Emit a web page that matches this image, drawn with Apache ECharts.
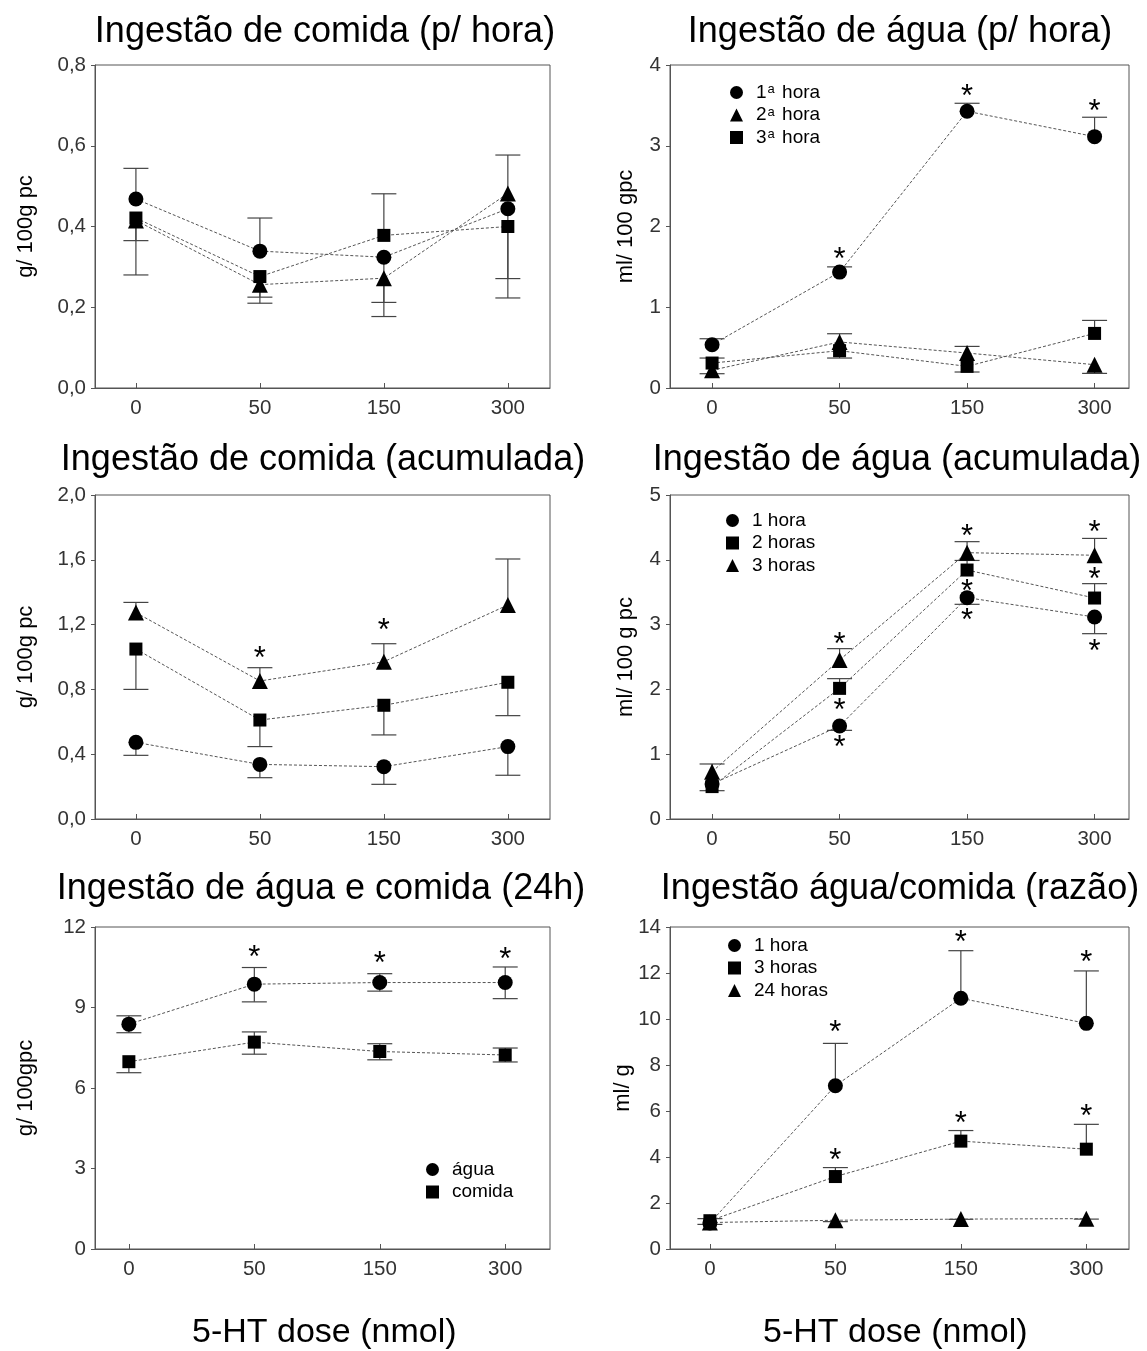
<!DOCTYPE html>
<html>
<head>
<meta charset="utf-8">
<script src="https://cdn.jsdelivr.net/npm/echarts@6/dist/echarts.min.js"></script>
<style>
  html, body { margin: 0; padding: 0; background: #fff; }
  #main { width: 1147px; height: 1351px; }
</style>
</head>
<body>
<div id="main"></div>
<script>
// doses on the x axis (plotted at index positions 0..3)
const doseLabels = ['0', '50', '150', '300']
const doseIdx = [0, 1, 2, 3]

// Ingestão de comida (p/ hora)
const comidaHora1 = [0.468, 0.339, 0.324, 0.444]
const comidaHora2 = [0.415, 0.256, 0.272, 0.482]
const comidaHora3 = [0.421, 0.276, 0.378, 0.400]
const comidaHora1Err = [0.544, 0.421, 0.212, 0.271]
const comidaHora2Err = [0.280, 0.210, 0.177, 0.577]
const comidaHora3Err = [0.365, 0.225, 0.481, 0.223]

// Ingestão de água (p/ hora)
const aguaHora1 = [0.536, 1.435, 3.427, 3.113]
const aguaHora2 = [0.220, 0.570, 0.433, 0.289]
const aguaHora3 = [0.309, 0.462, 0.268, 0.676]
const aguaHora1Err = [0.610, 1.500, 3.526, 3.353]
const aguaHora2Err = [0.177, 0.672, 0.515, 0.181]
const aguaHora3Err = [0.371, 0.371, 0.198, 0.837]
const aguaHoraStars = [[1, 1.67], [2, 3.69], [3, 3.505]]

// Ingestão de comida (acumulada)
const comidaAc1 = [0.473, 0.337, 0.323, 0.447]
const comidaAc2 = [1.049, 0.611, 0.702, 0.844]
const comidaAc3 = [1.274, 0.852, 0.971, 1.321]
const comidaAc1Err = [0.393, 0.255, 0.214, 0.270]
const comidaAc2Err = [0.800, 0.447, 0.519, 0.638]
const comidaAc3Err = [1.337, 0.934, 1.082, 1.605]
const comidaAcStars = [[1, 1.027], [2, 1.198]]

// Ingestão de água (acumulada)
const aguaAc1 = [0.54, 1.435, 3.416, 3.117]
const aguaAc2 = [0.50, 2.016, 3.842, 3.410]
const aguaAc3 = [0.73, 2.454, 4.110, 4.070]
const aguaAc1Err = [null, 1.368, 3.313, 2.860]
const aguaAc2Err = [0.437, 2.166, 3.990, 3.632]
const aguaAc3Err = [0.849, 2.629, 4.280, 4.330]
const aguaAcStars = [[1, 2.79], [1, 1.775], [1, 1.19], [2, 4.46], [2, 3.6], [2, 3.15], [3, 4.51], [3, 3.79], [3, 2.685]]

// Ingestão de água e comida (24h)
const agua24 = [8.38, 9.87, 9.93, 9.93]
const comida24 = [6.98, 7.71, 7.36, 7.23]
const agua24Hi = [8.69, 10.49, 10.26, 10.51]
const agua24Lo = [8.06, 9.21, 9.61, 9.33]
const comida24Hi = [null, 8.09, 7.65, 7.49]
const comida24Lo = [6.57, 7.26, 7.05, 6.97]
const dia24Stars = [[1, 11.09], [2, 10.88], [3, 11.03]]

// Ingestão água/comida (razão)
const razao1h = [1.13, 7.10, 10.90, 9.81]
const razao3h = [1.23, 3.15, 4.69, 4.34]
const razao24h = [1.15, 1.25, 1.30, 1.32]
const razao1hErr = [1.07, 8.94, 12.97, 12.09]
const razao3hErr = [1.32, 3.54, 5.15, 5.42]
const razao24hErr = [null, 1.19, 1.29, 1.30]
const razaoStars = [[1, 9.66], [2, 13.57], [3, 12.70], [1, 4.09], [2, 5.73], [3, 6.02]]

const FONT = 'Liberation Sans, Arial, sans-serif'
const chart = echarts.init(document.getElementById('main'))

const grids = [
  { left: 95, top: 65, width: 455, height: 323 },
  { left: 670, top: 65, width: 459, height: 323 },
  { left: 95, top: 495, width: 455, height: 324 },
  { left: 670, top: 495, width: 459, height: 324 },
  { left: 95, top: 927, width: 455, height: 322 },
  { left: 670, top: 927, width: 459, height: 322 }
]
const xRange = [[-0.33, 3.34], [-0.33, 3.27], [-0.33, 3.34], [-0.33, 3.27], [-0.27, 3.357], [-0.318, 3.34]]
const yMax = [0.8, 4, 2.0, 5, 12, 14]
const yStep = [0.2, 1, 0.4, 1, 3, 2]
const yComma = [true, false, true, false, false, false]
const yNames = ['g/ 100g pc', 'ml/ 100 gpc', 'g/ 100g pc', 'ml/ 100 g pc', 'g/ 100gpc', 'ml/ g']
const titles = [
  ['Ingestão de comida (p/ hora)', 325, 14],
  ['Ingestão de água (p/ hora)', 900, 14],
  ['Ingestão de comida (acumulada)', 323, 442],
  ['Ingestão de água (acumulada)', 897, 442],
  ['Ingestão de água e comida (24h)', 321, 871],
  ['Ingestão água/comida (razão)', 900, 871]
]

const symbols = { circle: ['circle', 15], rect: ['rect', 13], triangle: ['triangle', 16] }

function lineSeries (gi, name, vals, sym) {
  return {
    type: 'line',
    name: name,
    xAxisIndex: gi,
    yAxisIndex: gi,
    data: vals.map((v, i) => [doseIdx[i], v]),
    symbol: symbols[sym][0],
    symbolSize: symbols[sym][1],
    itemStyle: { color: '#000' },
    lineStyle: { color: '#555', width: 1, type: [3, 2] },
    z: 3,
    animation: false
  }
}

function errSeries (gi, vals, ends) {
  const data = []
  vals.forEach((v, i) => {
    if (ends[i] !== null) data.push([doseIdx[i], v, ends[i]])
  })
  return {
    type: 'custom',
    xAxisIndex: gi,
    yAxisIndex: gi,
    data: data,
    encode: { x: 0, y: [1, 2] },
    z: 2,
    silent: true,
    animation: false,
    renderItem: function (params, api) {
      const p0 = api.coord([api.value(0), api.value(1)])
      const p1 = api.coord([api.value(0), api.value(2)])
      const st = { stroke: '#444', lineWidth: 1.2 }
      return {
        type: 'group',
        children: [
          { type: 'line', shape: { x1: p0[0], y1: p0[1], x2: p1[0], y2: p1[1] }, style: st },
          { type: 'line', shape: { x1: p1[0] - 12.5, y1: p1[1], x2: p1[0] + 12.5, y2: p1[1] }, style: st }
        ]
      }
    }
  }
}

function starSeries (gi, pts) {
  return {
    type: 'custom',
    xAxisIndex: gi,
    yAxisIndex: gi,
    data: pts,
    z: 4,
    silent: true,
    animation: false,
    renderItem: function (params, api) {
      const p = api.coord([api.value(0), api.value(1)])
      return {
        type: 'text',
        x: p[0],
        y: p[1] + 7,
        style: { text: '*', fontSize: 31, fontFamily: FONT, fill: '#000', align: 'center', verticalAlign: 'middle' }
      }
    }
  }
}

function legendFor (left, top, items) {
  return {
    orient: 'vertical',
    left: left,
    top: top,
    padding: 0,
    itemGap: 3.5,
    itemWidth: 13,
    itemHeight: 13,
    selectedMode: false,
    data: items.map(it => ({ name: it[0], icon: it[1] })),
    formatter: function (name) { return name.replace(/(\d)ª/, '$1{s|a}') },
    textStyle: {
      fontFamily: FONT,
      fontSize: 19,
      lineHeight: 19,
      color: '#000',
      padding: [0, 0, 0, 8],
      rich: { s: { fontSize: 13, fontFamily: FONT, color: '#000', verticalAlign: 'top', padding: [0, 2, 0, 1] } }
    }
  }
}

const series = [
  lineSeries(0, 'c1', comidaHora1, 'circle'),
  lineSeries(0, 'c2', comidaHora2, 'triangle'),
  lineSeries(0, 'c3', comidaHora3, 'rect'),
  errSeries(0, comidaHora1, comidaHora1Err),
  errSeries(0, comidaHora2, comidaHora2Err),
  errSeries(0, comidaHora3, comidaHora3Err),

  lineSeries(1, '1ª hora', aguaHora1, 'circle'),
  lineSeries(1, '2ª hora', aguaHora2, 'triangle'),
  lineSeries(1, '3ª hora', aguaHora3, 'rect'),
  errSeries(1, aguaHora1, aguaHora1Err),
  errSeries(1, aguaHora2, aguaHora2Err),
  errSeries(1, aguaHora3, aguaHora3Err),
  starSeries(1, aguaHoraStars),

  lineSeries(2, 'ca1', comidaAc1, 'circle'),
  lineSeries(2, 'ca2', comidaAc2, 'rect'),
  lineSeries(2, 'ca3', comidaAc3, 'triangle'),
  errSeries(2, comidaAc1, comidaAc1Err),
  errSeries(2, comidaAc2, comidaAc2Err),
  errSeries(2, comidaAc3, comidaAc3Err),
  starSeries(2, comidaAcStars),

  lineSeries(3, '1 hora', aguaAc1, 'circle'),
  lineSeries(3, '2 horas', aguaAc2, 'rect'),
  lineSeries(3, '3 horas', aguaAc3, 'triangle'),
  errSeries(3, aguaAc1, aguaAc1Err),
  errSeries(3, aguaAc2, aguaAc2Err),
  errSeries(3, aguaAc3, aguaAc3Err),
  starSeries(3, aguaAcStars),

  lineSeries(4, 'água', agua24, 'circle'),
  lineSeries(4, 'comida', comida24, 'rect'),
  errSeries(4, agua24, agua24Hi),
  errSeries(4, agua24, agua24Lo),
  errSeries(4, comida24, comida24Hi),
  errSeries(4, comida24, comida24Lo),
  starSeries(4, dia24Stars),

  lineSeries(5, 'r1 hora', razao1h, 'circle'),
  lineSeries(5, 'r3 horas', razao3h, 'rect'),
  lineSeries(5, 'r24 horas', razao24h, 'triangle'),
  errSeries(5, razao1h, razao1hErr),
  errSeries(5, razao3h, razao3hErr),
  errSeries(5, razao24h, razao24hErr),
  starSeries(5, razaoStars)
]

const option = {
  backgroundColor: '#fff',
  animation: false,
  textStyle: { fontFamily: FONT },
  title: titles.map(t => ({
    text: t[0],
    left: t[1],
    top: t[2],
    textAlign: 'center',
    padding: 0,
    textStyle: { fontFamily: FONT, fontSize: 36, fontWeight: 'normal', color: '#000' }
  })),
  grid: grids.map(g => Object.assign({ show: true, borderColor: '#555', borderWidth: 1, backgroundColor: 'transparent' }, g)),
  xAxis: grids.map((g, i) => ({
    type: 'value',
    gridIndex: i,
    min: xRange[i][0],
    max: xRange[i][1],
    splitLine: { show: false },
    axisLine: { show: true, onZero: false, lineStyle: { color: '#555', width: 1 } },
    axisTick: { show: true, inside: true, length: 5, customValues: doseIdx, lineStyle: { color: '#555' } },
    axisLabel: {
      customValues: doseIdx,
      formatter: v => doseLabels[Math.round(v)],
      fontSize: 20.5,
      fontFamily: FONT,
      color: '#333',
      margin: 10
    }
  })),
  yAxis: grids.map((g, i) => ({
    type: 'value',
    gridIndex: i,
    min: 0,
    max: yMax[i],
    interval: yStep[i],
    splitLine: { show: false },
    axisLine: { show: true, onZero: false, lineStyle: { color: '#555', width: 1 } },
    axisTick: { show: true, inside: false, length: 4, lineStyle: { color: '#555' } },
    axisLabel: {
      formatter: v => yComma[i] ? v.toFixed(1).replace('.', ',') : String(v),
      fontSize: 20.5,
      fontFamily: FONT,
      color: '#333',
      margin: 9
    },
    name: yNames[i],
    nameLocation: 'middle',
    nameGap: i % 2 === 0 ? 58 : 33,
    nameTextStyle: { fontSize: 22, fontFamily: FONT, color: '#000' }
  })),
  legend: [
    legendFor(730, 83, [['1ª hora', 'circle'], ['2ª hora', 'triangle'], ['3ª hora', 'rect']]),
    legendFor(726, 511, [['1 hora', 'circle'], ['2 horas', 'rect'], ['3 horas', 'triangle']]),
    legendFor(426, 1160, [['água', 'circle'], ['comida', 'rect']]),
    legendFor(728, 936, [['r1 hora', 'circle'], ['r3 horas', 'rect'], ['r24 horas', 'triangle']])
  ],
  graphic: [
    { type: 'text', left: 333 - 141, top: 1316, style: { text: '5-HT dose (nmol)', fontSize: 34, fontFamily: FONT, fill: '#000' } },
    { type: 'text', left: 904 - 141, top: 1316, style: { text: '5-HT dose (nmol)', fontSize: 34, fontFamily: FONT, fill: '#000' } }
  ],
  series: series
}

// panel 6 legend shows plain names
option.legend[3].formatter = function (name) { return name.slice(1) }

chart.setOption(option)
</script>
</body>
</html>
